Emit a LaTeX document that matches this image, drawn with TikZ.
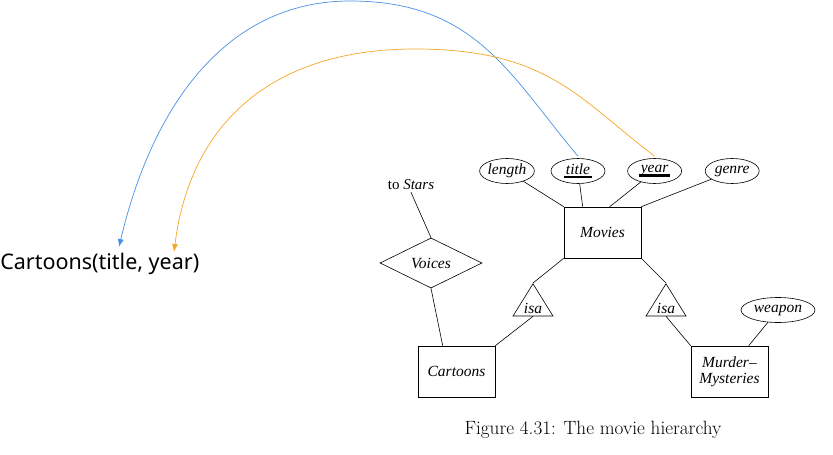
\documentclass[tikz,border=0pt]{standalone}
\usepackage{fontspec}
\newfontfamily\tms[Ligatures=TeX]{Liberation Serif}
\newfontfamily\sansfnt{Noto Sans}
\usetikzlibrary{positioning,shapes.geometric,arrows.meta}
\definecolor{keyblue}{HTML}{4A90E2}
\definecolor{keyorange}{HTML}{F5A623}
\newcommand{\keyattr}[1]{\setbox0=\hbox{#1}\rlap{\copy0}\hspace*{-2pt}\raisebox{-4pt}{\rule{\dimexpr\wd0+4pt\relax}{2.5pt}}\hspace*{-2pt}}
\begin{document}
\begin{tikzpicture}[x=1pt, y=-1pt, line width=0.6pt,
  erfont/.style = {font=\tms\itshape\fontsize{15.5}{16}\selectfont},
  attr/.style = {draw, ellipse, erfont, minimum width=54pt, minimum height=25pt, inner sep=0pt},
  ent/.style = {draw, rectangle, erfont, minimum width=77pt, minimum height=51pt, inner sep=0pt, align=center},
  rel/.style = {draw, diamond, erfont, minimum width=102pt, minimum height=50pt, inner sep=0pt},
  isa/.style = {draw, isosceles triangle, shape border rotate=90, isosceles triangle stretches, minimum width=40pt, minimum height=31pt, inner sep=0pt, erfont},
  keyarrow/.style = {line width=0.7pt, -{Latex[length=8pt,width=6pt]}}]
\useasboundingbox (0,0) rectangle (833,455);

\node[attr] (length) at (507,171) {length};
\node[attr] (title) [right=16pt of length] {\keyattr{title}};
\node[attr] (year) [right=22pt of title] {\keyattr{year}};
\node[attr] (genre) [right=23pt of year] {genre};

\node[ent] (movies) at (602.5,232.5) {Movies};
\node[isa, anchor=apex] (isaL) at (533,283) {isa};
\node[isa, anchor=apex] (isaR) at (666,283) {isa};
\node[ent] (cartoons) at (456.5,371.5) {Cartoons};
\node[ent] (murder) at (729.5,371.5) {Murder--\\Mysteries};
\node[attr, minimum width=74pt] (weapon) at (778,310) {weapon};

\node[rel] (voices) at (431,263) {Voices};
\node[font=\tms\fontsize{15}{16}\selectfont, inner sep=2pt] (stars) at (411,185) {to \textit{Stars}};

\node[font=\fontsize{19.2}{22}\selectfont] (caption) at (593,430) {Figure 4.31: The movie hierarchy};
\node[font=\sansfnt\fontsize{21.5}{24}\selectfont, anchor=west, inner sep=0pt] (ct) at (0,264) {Cartoons(title, year)};
\coordinate (ctitle) at (119,247);
\coordinate (cyear) at (174,252);
\coordinate (titletop) at (350,1);
\coordinate (yeartop) at (415,49);

\draw (length) -- (movies.north west);
\draw (title) -- ([xshift=19pt]movies.north west);
\draw (year) -- ([xshift=46pt]movies.north west);
\draw (genre) -- (movies.north east);
\draw (movies.south west) -- (isaL.apex);
\draw (movies.south east) -- (isaR.apex);
\draw (isaL.lower side) -- (cartoons.north east);
\draw (isaR.lower side) -- (murder.north west);
\draw (stars.south) -- (voices.north);
\draw (voices.south) -- ([xshift=25pt]cartoons.north west);
\draw (weapon) -- ([xshift=58pt]murder.north west);

% key attributes carried over to the relation
\draw[keyarrow, keyblue] ([yshift=2pt]title.north) .. controls (509,74) and (475,1) .. (titletop)
  .. controls (223,1) and (151,111) .. (ctitle);
\draw[keyarrow, keyorange] ([yshift=2pt]year.north) .. controls (579,99) and (548,49) .. (yeartop)
  .. controls (270,49) and (190,125) .. (cyear);
\end{tikzpicture}
\end{document}
